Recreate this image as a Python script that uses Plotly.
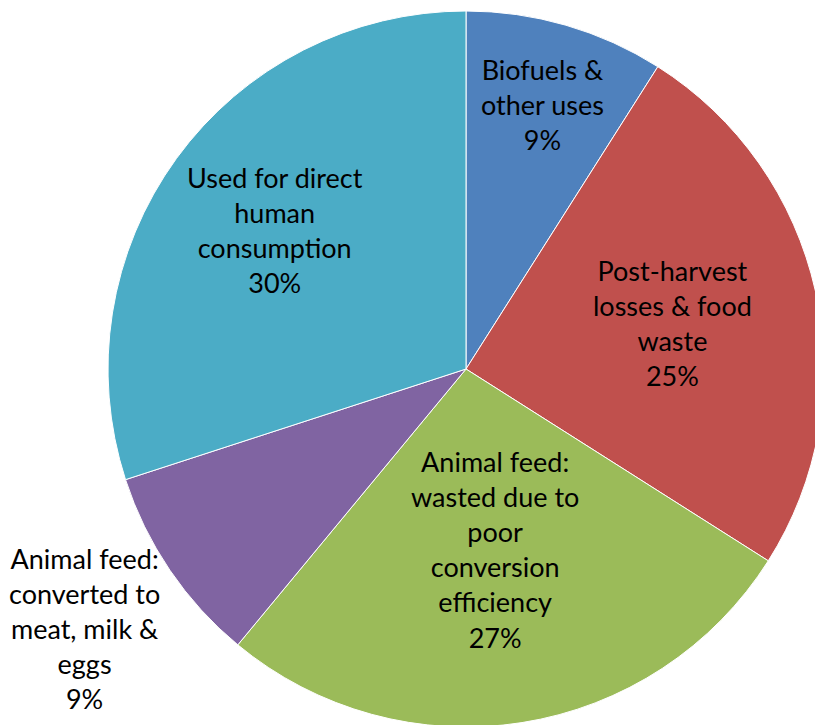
import math
import plotly.graph_objects as go

# ---- data ----
labels = [
    "Biofuels &<br>other uses",
    "Post-harvest<br>losses & food<br>waste",
    "Animal feed:<br>wasted due to<br>poor<br>conversion<br>efficiency",
    "Animal feed:<br>converted to<br>meat, milk &<br>eggs",
    "Used for direct<br>human<br>consumption",
]
values = [9, 25, 27, 9, 30]
colors = ["#4F81BD", "#C0504D", "#9BBB59", "#8064A2", "#4BACC6"]

# ---- layout geometry (pixels) ----
W, H = 835, 735
CX, CY, R = 466, 369, 358          # pie centre and radius in px (top-left origin)
label_frac = [0.77, 0.59, 0.51, 1.29, 0.66]   # radial position of each label (x radius)
FONT = "Lato, Carlito, Calibri, sans-serif"

fig = go.Figure(go.Pie(
    labels=labels,
    values=values,
    sort=False,
    direction="clockwise",
    rotation=0,
    marker=dict(colors=colors, line=dict(color="white", width=1)),
    textinfo="none",
    hoverinfo="label+percent",
    domain=dict(x=[(CX - R) / W, (CX + R) / W], y=[1 - (CY + R) / H, 1 - (CY - R) / H]),
    showlegend=False,
))

total = sum(values)
cum = 0
annotations = []
for lab, v, f in zip(labels, values, label_frac):
    mid = (cum + v / 2) / total * 2 * math.pi
    cum += v
    px = CX + f * R * math.sin(mid)
    py = CY - f * R * math.cos(mid)
    pct = round(100 * v / total)
    annotations.append(dict(
        x=px / W, y=1 - py / H, xref="paper", yref="paper",
        text=f"{lab}<br>{pct}%", showarrow=False,
        xanchor="center", yanchor="middle", align="center",
        font=dict(family=FONT, size=27, color="black"),
    ))

fig.update_layout(
    width=W, height=H,
    margin=dict(l=0, r=0, t=0, b=0),
    paper_bgcolor="white", plot_bgcolor="white",
    annotations=annotations,
)

fig.write_html(
    "out.html",
    post_script="document.documentElement.style.overflow='hidden';"
                "document.body.style.overflow='hidden';document.body.style.margin='0';",
)
